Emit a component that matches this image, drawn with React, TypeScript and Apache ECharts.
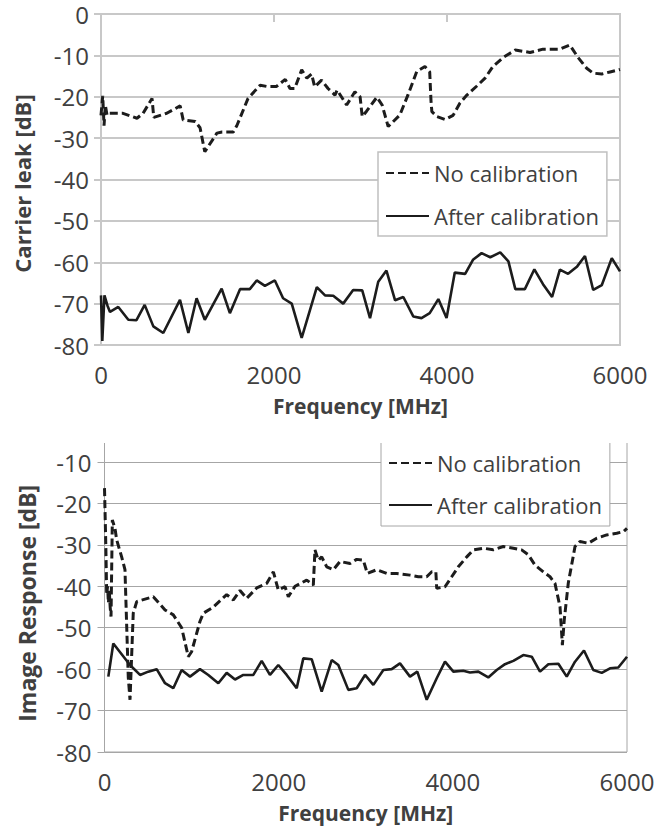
import React, { useEffect, useRef } from "react";
import * as echarts from "echarts";

const legendNames = ["No calibration", "After calibration"];
const xTitle = "Frequency [MHz]";
const topYTitle = "Carrier leak [dB]";
const bottomYTitle = "Image Response [dB]";

// Top chart: carrier leak, no calibration (dashed)
const topNoCal: [number, number][] = [
  [0, -24.5], [20, -19.8], [35, -27], [50, -22], [70, -24.5], [100, -24],
  [254, -24], [416, -25.2], [486, -24], [590, -20.4], [610, -25], [760, -24],
  [915, -22.2], [950, -25.6], [1090, -26], [1145, -27.5], [1200, -33.3],
  [1340, -28.8], [1400, -28.5], [1530, -28.5], [1570, -27], [1700, -20.4],
  [1840, -17.2], [1915, -17.5], [2030, -17.5], [2130, -15.8], [2185, -18],
  [2240, -18], [2320, -13.5], [2380, -15.5], [2435, -14.5], [2470, -17.6],
  [2550, -16], [2625, -18], [2705, -19.6], [2730, -18.4], [2840, -22],
  [2935, -18.8], [2995, -20], [3020, -24.8], [3070, -23.5], [3190, -20.1],
  [3250, -22], [3320, -27.2], [3455, -24.4], [3550, -19.5], [3650, -13.9],
  [3745, -12.7], [3800, -14], [3815, -21], [3825, -23.6], [3885, -24.8],
  [3980, -25.5], [4070, -24.5], [4150, -21.5], [4230, -19.6], [4345, -17.4],
  [4440, -15.5], [4530, -12.7], [4650, -10.5], [4790, -8.7], [4960, -9.3],
  [5110, -8.5], [5305, -8.5], [5420, -7.5], [5515, -10.5], [5615, -13.1],
  [5690, -14.3], [5790, -14.5], [5885, -14], [6000, -13.4],
];

// Top chart: carrier leak, after calibration (solid)
const topAfterCal: [number, number][] = [
  [0, -68], [15, -79], [40, -68], [75, -70.5], [104, -72], [200, -70.8],
  [316, -73.9], [410, -74], [505, -70.3], [605, -75.5], [720, -77.1],
  [913, -69.1], [1010, -77.1], [1105, -68.7], [1200, -73.9], [1395, -66.4],
  [1490, -72.3], [1607, -66.5], [1720, -66.5], [1800, -64.4], [1895, -65.7],
  [2010, -64.4], [2105, -68.7], [2205, -70], [2320, -78.3], [2495, -66],
  [2590, -68], [2685, -68.1], [2800, -70], [2915, -66.7], [3020, -66.8],
  [3110, -73.5], [3205, -64.7], [3300, -62], [3400, -69.2], [3495, -68.4],
  [3610, -73.1], [3705, -73.5], [3800, -72.3], [3900, -68.9], [3995, -73.5],
  [4090, -62.5], [4210, -62.8], [4300, -59.4], [4400, -57.8], [4500, -58.8],
  [4615, -57.6], [4710, -59.8], [4790, -66.5], [4900, -66.5], [5010, -61.7],
  [5110, -65.3], [5215, -68.4], [5305, -61.8], [5400, -62.8], [5505, -61],
  [5595, -58.5], [5690, -66.7], [5790, -65.5], [5905, -59], [6000, -62.2],
];

// Bottom chart: image response, no calibration (dashed)
const bottomNoCal: [number, number][] = [
  [0, -16.3], [15, -30], [25, -42], [35, -40], [45, -44], [55, -41],
  [65, -45], [75, -47.3], [90, -24], [120, -26], [140, -28.8], [197, -32.9],
  [235, -36], [273, -62], [293, -67.4], [330, -46.5], [370, -43.7],
  [560, -42.5], [695, -45.7], [790, -46.9], [886, -50], [962, -57],
  [1000, -55.8], [1096, -48.5], [1135, -46.5], [1250, -45], [1403, -42],
  [1480, -43.3], [1556, -41], [1633, -42.9], [1748, -40.4], [1862, -39.3],
  [1939, -36.5], [1996, -40.9], [2073, -40.1], [2111, -42.5], [2188, -40],
  [2322, -38.5], [2398, -39.7], [2417, -31.2], [2455, -33.7], [2494, -32.9],
  [2552, -35.3], [2628, -36], [2705, -34], [2820, -34.5], [2896, -33.5],
  [2972, -33.7], [3018, -36.9], [3126, -36], [3240, -36.9], [3356, -36.9],
  [3508, -37.3], [3604, -37.7], [3700, -37.7], [3758, -36.5], [3805, -36.5],
  [3815, -40.5], [3910, -40.1], [3987, -37.7], [4063, -35.3], [4160, -32.9],
  [4235, -31.2], [4350, -30.8], [4465, -31.2], [4580, -30.4], [4695, -30.8],
  [4790, -31.2], [4867, -32.4], [4944, -34.9], [5039, -36.5], [5116, -37.7],
  [5173, -39.3], [5231, -45], [5258, -54.2], [5280, -48], [5326, -39.2],
  [5403, -30.4], [5460, -29.2], [5556, -29.6], [5652, -28.4], [5767, -27.6],
  [5882, -27.2], [5958, -26.8], [6000, -26],
];

// Bottom chart: image response, after calibration (solid)
const bottomAfterCal: [number, number][] = [
  [44, -61.8], [101, -53.8], [293, -59], [408, -61.4], [503, -60.6],
  [599, -60], [695, -63.4], [790, -64.6], [886, -60.2], [982, -61.8],
  [1096, -60], [1192, -61.4], [1307, -63.4], [1403, -60.9], [1499, -62.5],
  [1594, -61.4], [1709, -61.4], [1805, -58], [1900, -61.4], [1996, -59],
  [2092, -61.4], [2207, -64.6], [2283, -57.4], [2379, -57.6], [2494, -65.4],
  [2609, -57.8], [2685, -59], [2800, -65], [2896, -64.6], [2992, -61.4],
  [3087, -63.8], [3202, -60.2], [3298, -60], [3393, -58.6], [3508, -61.8],
  [3592, -60.6], [3700, -67.4], [3815, -62.2], [3910, -58.2], [4006, -60.6],
  [4120, -60.4], [4197, -60.8], [4293, -60.6], [4407, -62], [4504, -60.2],
  [4599, -58.8], [4695, -58], [4809, -56.6], [4906, -57], [5001, -60.6],
  [5097, -58.8], [5212, -58.7], [5308, -61.8], [5403, -58.2], [5506, -55.5],
  [5613, -60.2], [5710, -60.9], [5805, -59.8], [5900, -59.6], [6000, -57],
];

const FONT = "'Open Sans', sans-serif";
const TEXT = "#404040";
const LINE = "#1c1c1c";

type Cfg = {
  grid: { left: number; top: number; width: number; height: number };
  frame: string;
  frameWidth: number;
  yTitle: string;
  yTitleSize: number;
  yTitleShift: number;
  yNameGap: number;
  yLabelMargin: number;
  showMaxY: boolean;
  legend: { left: number; top: number; padding: number[]; gap: number; border: string; borderWidth: number };
  noCal: [number, number][];
  afterCal: [number, number][];
};

const plain = (v: number) => String(v);

function buildOption(c: Cfg): any {
  const frameStyle = { color: c.frame, width: c.frameWidth };
  return {
    animation: false,
    grid: {
      ...c.grid,
      show: true,
      borderColor: c.frame,
      borderWidth: c.frameWidth,
      backgroundColor: "transparent",
    },
    xAxis: [
      {
        type: "value",
        min: 0,
        max: 6000,
        interval: 2000,
        position: "bottom",
        axisLine: { show: false, onZero: false },
        axisTick: { show: false },
        splitLine: { show: false },
        axisLabel: { fontFamily: FONT, fontSize: 24, lineHeight: 20, color: TEXT, margin: 19, formatter: plain },
        name: xTitle,
        nameLocation: "middle",
        nameGap: 50,
        nameTextStyle: { fontFamily: FONT, fontSize: 21, fontWeight: "bold", color: TEXT },
      },
      {
        type: "value",
        min: 0,
        max: 6000,
        interval: 2000,
        position: "top",
        axisLine: { show: true, onZero: false, lineStyle: frameStyle },
        axisTick: { show: true, inside: true, length: 8, lineStyle: frameStyle },
        axisLabel: { show: false },
        splitLine: { show: false },
      },
    ],
    yAxis: {
      type: "value",
      min: -80,
      max: 0,
      interval: 10,
      axisLine: { show: true, onZero: false, lineStyle: frameStyle },
      axisTick: { show: true, length: 7, lineStyle: frameStyle },
      splitLine: { show: true, lineStyle: frameStyle },
      axisLabel: {
        fontFamily: FONT,
        fontSize: 24,
        lineHeight: 20,
        color: TEXT,
        margin: c.yLabelMargin,
        formatter: plain,
        showMaxLabel: c.showMaxY,
      },
      name: c.yTitle,
      nameLocation: "middle",
      nameRotate: 90,
      nameGap: c.yNameGap,
      nameTextStyle: {
        fontFamily: FONT,
        fontSize: c.yTitleSize,
        fontWeight: "bold",
        color: TEXT,
        padding: [0, c.yTitleShift * 2, 0, 0],
      },
    },
    legend: {
      data: legendNames,
      orient: "vertical",
      left: c.legend.left,
      top: c.legend.top,
      padding: c.legend.padding,
      itemGap: c.legend.gap,
      itemWidth: 43,
      itemHeight: 20,
      backgroundColor: "#ffffff",
      borderColor: c.legend.border,
      borderWidth: c.legend.borderWidth,
      borderRadius: 0,
      itemStyle: { opacity: 0 },
      textStyle: { fontFamily: FONT, fontSize: 22, color: TEXT, lineHeight: 20 },
    },
    series: [
      {
        name: legendNames[0],
        type: "line",
        xAxisIndex: 0,
        data: c.noCal,
        symbol: "none",
        lineStyle: { color: LINE, width: 3, type: [8, 4] },
        itemStyle: { color: LINE },
      },
      {
        name: legendNames[1],
        type: "line",
        xAxisIndex: 0,
        data: c.afterCal,
        symbol: "none",
        lineStyle: { color: LINE, width: 2.6, type: "solid" },
        itemStyle: { color: LINE },
      },
    ],
  };
}

function Chart({ option, style }: { option: any; style: React.CSSProperties }) {
  const ref = useRef<HTMLDivElement>(null);
  useEffect(() => {
    const chart = echarts.init(ref.current!, null, { renderer: "svg" });
    chart.setOption(option);
    return () => chart.dispose();
  }, []);
  return <div ref={ref} style={style} />;
}

const topOption = buildOption({
  grid: { left: 101, top: 14, width: 519, height: 331 },
  frame: "#c8c8c8",
  frameWidth: 2,
  yTitle: topYTitle,
  yTitleSize: 22,
  yTitleShift: 4,
  yNameGap: 68,
  yLabelMargin: 12,
  showMaxY: true,
  legend: { left: 378, top: 152, padding: [10, 8, 9, 7], gap: 21, border: "#c0c0c0", borderWidth: 1.5 },
  noCal: topNoCal,
  afterCal: topAfterCal,
});

const bottomOption = buildOption({
  grid: { left: 104.5, top: 20.6, width: 522.5, height: 331.4 },
  frame: "#a6a6a6",
  frameWidth: 1,
  yTitle: bottomYTitle,
  yTitleSize: 23,
  yTitleShift: 17,
  yNameGap: 66,
  yLabelMargin: 13,
  showMaxY: false,
  legend: { left: 381, top: 32, padding: [20, 8, 10, 7], gap: 20, border: "#a6a6a6", borderWidth: 1 },
  noCal: bottomNoCal,
  afterCal: bottomAfterCal,
});

export default function App() {
  return (
    <div
      style={{
        position: "absolute",
        left: 0,
        top: 0,
        width: 671,
        height: 829,
        background: "#ffffff",
        overflow: "hidden",
      }}
    >
      <Chart option={topOption} style={{ position: "absolute", left: 0, top: 0, width: 671, height: 440 }} />
      <div style={{ position: "absolute", left: 0, top: 443, width: 671, height: 386, overflow: "hidden" }}>
        <Chart option={bottomOption} style={{ position: "absolute", left: 0, top: -43, width: 671, height: 429 }} />
      </div>
    </div>
  );
}
